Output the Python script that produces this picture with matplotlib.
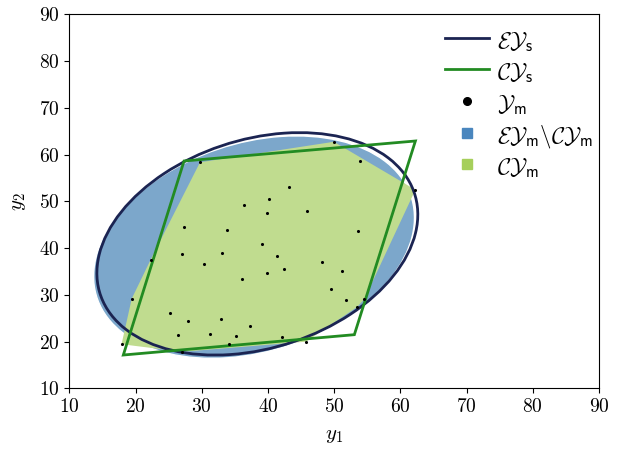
import numpy as np
import matplotlib
matplotlib.use("Agg")
import matplotlib.pyplot as plt
from matplotlib.patches import Ellipse, Polygon
from matplotlib.lines import Line2D

plt.rcParams['font.family'] = 'serif'
plt.rcParams['font.serif'] = ['cmr10']
plt.rcParams['mathtext.fontset'] = 'cm'
plt.rcParams['axes.formatter.use_mathtext'] = True

# measured points Y_m
pts_x = [29.74, 27.25, 27.07, 30.38, 22.30, 19.43, 25.21, 27.93, 26.47, 17.89,
         27.07, 43.11, 40.20, 36.34, 39.89, 45.91, 33.85, 39.03, 33.11, 41.42,
         39.83, 42.43, 36.13, 32.92, 37.27, 31.21, 35.23, 42.18, 34.08, 45.73,
         49.95, 53.91, 62.27, 53.56, 48.20, 51.24, 49.50, 51.75, 53.41, 54.55]
pts_y = [58.34, 44.44, 38.66, 36.63, 37.55, 29.17, 26.04, 24.46, 21.47, 19.43,
         17.81, 53.02, 50.53, 49.14, 47.56, 47.93, 43.80, 40.93, 38.88, 38.34,
         34.77, 35.45, 33.44, 24.89, 23.22, 21.57, 21.19, 20.91, 19.43, 19.97,
         62.73, 58.66, 52.46, 43.65, 37.12, 35.09, 31.18, 28.89, 27.33, 29.04]

# ellipse E_{Y_s} (outline) : center, full width, full height, angle
ell_s_center = (38.4, 40.9)
ell_s_width = 54.0
ell_s_height = 41.2
ell_s_angle = 43.0

# ellipse E_{Y_m} (filled)
ell_m_center = (37.9, 40.2)
ell_m_width = 54.0
ell_m_height = 41.2
ell_m_angle = 43.0

# parallelogram C_{Y_s}
par_x = [27.33, 62.27, 53.05, 18.16]
par_y = [58.62, 62.90, 21.47, 17.12]

xticks = [10, 20, 30, 40, 50, 60, 70, 80, 90]
yticks = [10, 20, 30, 40, 50, 60, 70, 80, 90]

legend_labels = [
    r'$\mathcal{E}\mathcal{Y}_{\mathsf{s}}$',
    r'$\mathcal{C}\mathcal{Y}_{\mathsf{s}}$',
    r'$\mathcal{Y}_{\mathsf{m}}$',
    r'$\mathcal{E}\mathcal{Y}_{\mathsf{m}}\backslash\mathcal{C}\mathcal{Y}_{\mathsf{m}}$',
    r'$\mathcal{C}\mathcal{Y}_{\mathsf{m}}$',
]


def convex_hull(x, y):
    P = sorted(set(zip(x, y)))
    def cross(o, a, b):
        return (a[0]-o[0])*(b[1]-o[1]) - (a[1]-o[1])*(b[0]-o[0])
    lower = []
    for p in P:
        while len(lower) >= 2 and cross(lower[-2], lower[-1], p) <= 0:
            lower.pop()
        lower.append(p)
    upper = []
    for p in reversed(P):
        while len(upper) >= 2 and cross(upper[-2], upper[-1], p) <= 0:
            upper.pop()
        upper.append(p)
    return np.array(lower[:-1] + upper[:-1])


navy = '#1b2452'
green = '#228b22'
blue_fill = '#7ca7cb'
green_fill = '#c0dc8f'
blue_leg = '#4a86be'
green_leg = '#a6cf5b'

W, H = 619, 450
fig = plt.figure(figsize=(W / 100, H / 100), dpi=100)
ax = fig.add_axes([69.3 / W, 1 - 388.3 / H, (599 - 69.3) / W, (388.3 - 14.3) / H])

ax.add_patch(Ellipse(ell_m_center, ell_m_width, ell_m_height, angle=ell_m_angle,
                     facecolor=blue_fill, edgecolor='white', lw=1.0, zorder=1))
hull = convex_hull(pts_x, pts_y)
ax.add_patch(Polygon(hull, closed=True, facecolor=green_fill, edgecolor='none', zorder=2))
ax.add_patch(Ellipse(ell_s_center, ell_s_width, ell_s_height, angle=ell_s_angle,
                     facecolor='none', edgecolor=navy, lw=2.0, zorder=3))
ax.add_patch(Polygon(np.column_stack([par_x, par_y]), closed=True, facecolor='none',
                     edgecolor=green, lw=2.0, zorder=4))
ax.scatter(pts_x, pts_y, s=5, color='black', zorder=5, linewidths=0)

ax.set_xlim(10, 90)
ax.set_ylim(10, 90)
ax.set_xticks(xticks)
ax.set_yticks(yticks)
ax.tick_params(labelsize=14)
ax.set_xlabel(r'$y_{\mathit{1}}$', fontsize=15, labelpad=8)
ax.set_ylabel(r'$y_{\mathit{2}}$', fontsize=15, labelpad=8)

# manual legend (uniform spacing)
leg_y = [38, 69, 101, 133, 164]
x0, x1, xt = 445, 489, 497
fx = lambda px: px / W
fy = lambda py: 1 - py / H
handles = [
    dict(kind='line', color=navy),
    dict(kind='line', color=green),
    dict(kind='marker', color='black', marker='o', ms=5.5),
    dict(kind='marker', color=blue_leg, marker='s', ms=7.5),
    dict(kind='marker', color=green_leg, marker='s', ms=7.5),
]
for h, lab, py in zip(handles, legend_labels, leg_y):
    if h['kind'] == 'line':
        fig.add_artist(Line2D([fx(x0), fx(x1)], [fy(py), fy(py)], color=h['color'],
                              lw=2.0, transform=fig.transFigure))
    else:
        fig.add_artist(Line2D([fx((x0 + x1) / 2)], [fy(py)], color=h['color'],
                              marker=h['marker'], ms=h['ms'], ls='none',
                              transform=fig.transFigure))
    fig.text(fx(xt), fy(py + 10), lab, fontsize=16.5, ha='left', va='baseline')

fig.savefig('out.png', dpi=100)
